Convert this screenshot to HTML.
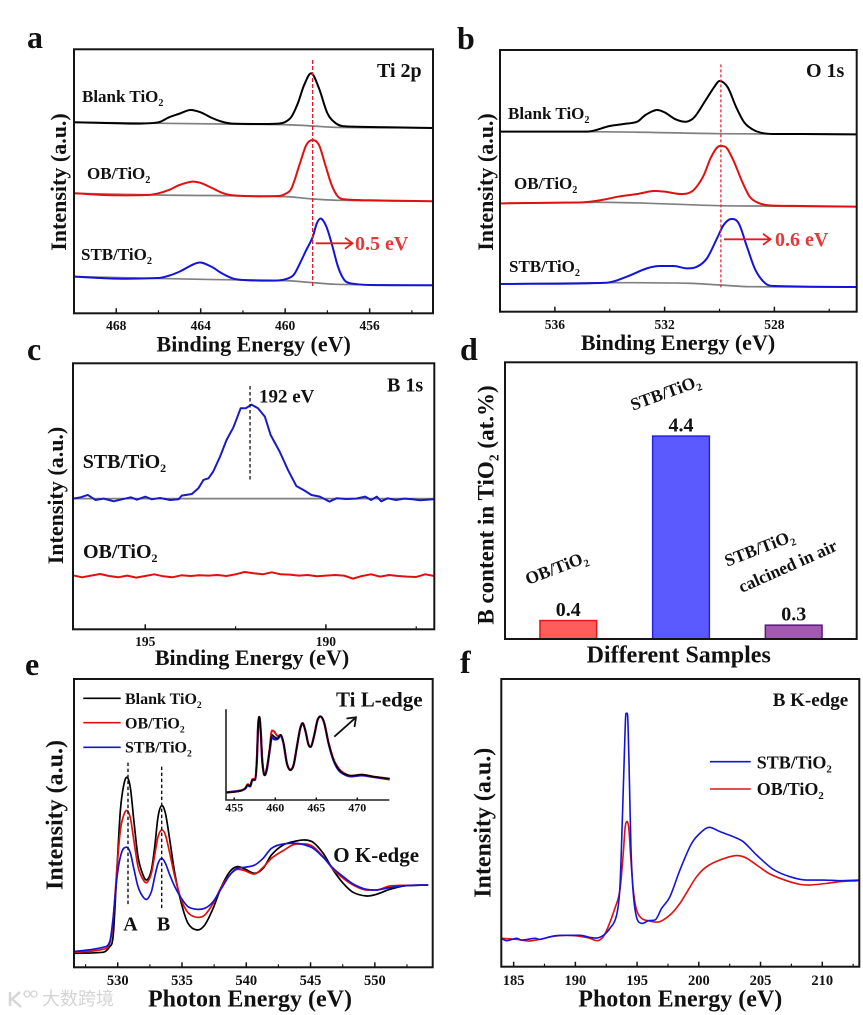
<!DOCTYPE html>
<html lang="en">
<head>
<meta charset="utf-8">
<title>TiO2 XPS and XANES panels</title>
<style>
html,body{margin:0;padding:0;background:#fff;}
svg{display:block;filter:blur(0.35px);}
text{font-family:"Liberation Serif","Noto Serif CJK SC",serif;font-weight:bold;fill:#111;}
.frame{fill:none;stroke:#151515;stroke-width:2;}
.panel{font-size:32px;}
.ax{font-size:22px;}
.ax24{font-size:24px;}
.lab{font-size:17px;}
.mark20{font-size:20px;}
.sub{font-size:60%;}
.redt{fill:#e23a3a;}
</style>
</head>
<body>
<svg id="figure" width="863" height="1015" viewBox="0 0 863 1015" xmlns="http://www.w3.org/2000/svg">
<rect width="863" height="1015" fill="#fff"/>

<g id="pa">
<text class="panel" x="27" y="48">a</text>
<g id="pa-marks"></g>
<rect class="frame" x="74" y="49.3" width="359" height="264"/>
<text class="ax" transform="translate(66,182) rotate(-90)" text-anchor="middle">Intensity (a.u.)</text>
<text class="ax" x="253.7" y="351.5" text-anchor="middle">Binding Energy (eV)</text>
<text class="mark20" x="377" y="77">Ti 2p</text>
<text class="lab" x="82" y="102">Blank TiO<tspan class="sub" dy="4">2</tspan></text>
<text class="lab" x="87" y="179">OB/TiO<tspan class="sub" dy="4">2</tspan></text>
<text class="lab" x="81" y="260">STB/TiO<tspan class="sub" dy="4">2</tspan></text>
<g fill="none" stroke="#e01c1c" stroke-width="1.8"><path d="M315.7 243.3H352"/><path d="M345 237.8L352.5 243.3L345 248.8"/></g>
<text class="mark20 redt" x="355" y="250">0.5 eV</text>
</g>

<g id="pb">
<text class="panel" x="457" y="49">b</text>
<g id="pb-marks"></g>
<rect class="frame" x="500" y="50" width="356.7" height="261.7"/>
<text class="ax" transform="translate(493,182) rotate(-90)" text-anchor="middle">Intensity (a.u.)</text>
<text class="ax" x="678" y="350" text-anchor="middle">Binding Energy (eV)</text>
<text class="mark20" x="806" y="77">O 1s</text>
<text class="lab" x="508" y="119">Blank TiO<tspan class="sub" dy="4">2</tspan></text>
<text class="lab" x="514" y="189">OB/TiO<tspan class="sub" dy="4">2</tspan></text>
<text class="lab" x="509" y="272">STB/TiO<tspan class="sub" dy="4">2</tspan></text>
<g fill="none" stroke="#e01c1c" stroke-width="1.8"><path d="M724 239.3H770"/><path d="M763 233.8L770.5 239.3L763 244.8"/></g>
<text class="mark20 redt" x="775" y="246">0.6 eV</text>
</g>

<g id="pc">
<text class="panel" x="27" y="360">c</text>
<g id="pc-marks"></g>
<rect class="frame" x="73" y="363.3" width="361.3" height="266"/>
<text class="ax" transform="translate(63,495.5) rotate(-90)" text-anchor="middle">Intensity (a.u.)</text>
<text class="ax" x="252" y="665" text-anchor="middle">Binding Energy (eV)</text>
<text class="mark20" x="387" y="391.7">B 1s</text>
<text style="font-size:19px" x="259" y="402.7">192 eV</text>
<text class="mark20" x="82.7" y="468">STB/TiO<tspan class="sub" dy="4">2</tspan></text>
<text class="mark20" x="83" y="558">OB/TiO<tspan class="sub" dy="4">2</tspan></text>
</g>

<g id="pd">
<text class="panel" x="460" y="360">d</text>
<g id="pd-marks"></g>
<rect class="frame" x="505" y="362.3" width="351.7" height="276.7"/>
<text style="font-size:23px" transform="translate(493.3,505) rotate(-90)" text-anchor="middle">B content in TiO<tspan class="sub" dy="5">2</tspan><tspan dy="-5"> (at.%)</tspan></text>
<text class="ax24" x="678.7" y="662.7" text-anchor="middle">Different Samples</text>
<text style="font-size:17.5px" transform="translate(528,585) rotate(-21)">OB/TiO<tspan class="sub" dy="4">2</tspan></text>
<text style="font-size:17.5px" transform="translate(633,410.7) rotate(-20)">STB/TiO<tspan class="sub" dy="4">2</tspan></text>
<text style="font-size:17.5px" transform="translate(727.3,566.7) rotate(-21)">STB/TiO<tspan class="sub" dy="4">2</tspan></text>
<text style="font-size:17.5px" transform="translate(741.7,593) rotate(-24)">calcined in air</text>
</g>

<g id="pe">
<text class="panel" x="25" y="675">e</text>
<g id="pe-marks"></g>
<rect class="frame" x="74" y="679" width="358.7" height="288.3"/>
<text class="ax24" transform="translate(62.3,815) rotate(-90)" text-anchor="middle">Intensity (a.u.)</text>
<text class="ax24" x="250" y="1006.7" text-anchor="middle">Photon Energy (eV)</text>
<g>
<path d="M83.3 698.3H120.7" stroke="#000" stroke-width="1.6"/>
<path d="M83.3 722.7H120.7" stroke="#e01010" stroke-width="1.6"/>
<path d="M83.3 747.3H120.7" stroke="#1414d8" stroke-width="1.6"/>
<text style="font-size:16px" x="125" y="704">Blank TiO<tspan class="sub" dy="4">2</tspan></text>
<text style="font-size:16px" x="125" y="728.3">OB/TiO<tspan class="sub" dy="4">2</tspan></text>
<text style="font-size:16px" x="125" y="752.7">STB/TiO<tspan class="sub" dy="4">2</tspan></text>
</g>
<text class="mark20" x="130.5" y="930.7" text-anchor="middle">A</text>
<text class="mark20" x="163.5" y="930.7" text-anchor="middle">B</text>
<text style="font-size:21px" x="333.3" y="862">O K-edge</text>
<text style="font-size:21px" x="336" y="706.7">Ti L-edge</text>
<g fill="none" stroke="#111" stroke-width="1.8"><path d="M334.3 736.7L355.5 717.8"/><path d="M346.5 718.5L356 717.3L354.5 727"/></g>
<g id="pe-inset"></g>
</g>

<g id="pf">
<text class="panel" x="460" y="673">f</text>
<g id="pf-marks"></g>
<rect class="frame" x="501.3" y="679" width="358" height="287.7"/>
<text class="ax24" transform="translate(490.7,822.8) rotate(-90)" text-anchor="middle">Intensity (a.u.)</text>
<text class="ax24" x="680.3" y="1006.7" text-anchor="middle">Photon Energy (eV)</text>
<text style="font-size:19px" x="772.7" y="706">B K-edge</text>
<g>
<path d="M710 761.7H750.7" stroke="#1414d8" stroke-width="1.6"/>
<path d="M710 789H750.7" stroke="#e01010" stroke-width="1.6"/>
<text style="font-size:18px" x="756.7" y="768.3">STB/TiO<tspan class="sub" dy="4">2</tspan></text>
<text style="font-size:18px" x="756.7" y="795">OB/TiO<tspan class="sub" dy="4">2</tspan></text>
</g>
</g>

<g opacity="0.9">
<path d="M10 992V1006M20 992L12 999L21 1007" fill="none" stroke="#d2d2d2" stroke-width="2.5"/>
<circle cx="27" cy="994" r="3" fill="none" stroke="#d2d2d2" stroke-width="1.3"/>
<circle cx="34" cy="994" r="3" fill="none" stroke="#d2d2d2" stroke-width="1.3"/>
<text x="42" y="1005" style="font-family:'Liberation Sans','Noto Sans CJK SC',sans-serif;font-size:18px;font-weight:normal;fill:#d0d0d0">大数跨境</text>
</g>
</svg>

<script>
// Panel a: Ti 2p
const aTicks = [468, 464, 460, 456];
const aMinor = [466, 462, 458, 454];
const aBlankE = [470,468,467,466,465.5,465,464.5,464,463.5,463,462.5,461,460.3,460,459.7,459.4,459.1,458.76,458.4,458,457.6,457.2,456,453];
const aBlankI = [573,570,569,573,588,599,610,603,587,575,569,568,569,574,590,630,685,720,675,600,570,561,559,556];
const aBlankBgE = [470,465.9,460.1,458.7,457.7,453];
const aBlankBgI = [573,570,566,562,558,556];
const aObE = [470,468,466.5,466,465.5,465,464.4,464,463.5,463,462.5,461.5,460.3,460,459.7,459.3,459,458.7,458.4,458.1,457.8,457.5,457.2,456,453];
const aObI = [360,354,355,360,370,385,395,391,377,362,354,351,352,358,375,450,505,520,505,445,385,350,342,339,336];
const aObBgE = [470,466,460,458.7,457.5,453];
const aObBgI = [360,355,350,343,339,336];
const aStbE = [470,468,466,465.5,465,464.1,463.5,463,462.5,462,460.5,460,459.6,459.3,459,458.7,458.5,458.3,458.05,457.8,457.5,457.2,456.9,456,453];
const aStbI = [110,104,106,113,125,152,140,120,105,100,98,102,115,150,190,228,270,284,260,210,140,100,90,85,84];
const aStbBgE = [470,464,460,458.7,457.6,453];
const aStbBgI = [110,102,98,92,87,84];
const aGuideE = 458.7;
const aGuideI = [760, 80];

// Panel b: O 1s
const bTicks = [536, 532, 528];
const bMinor = [534, 530, 526];
const bBlankE = [538,536,534.85,534,533.5,533,532.7,532.3,532,531.6,531.2,530.9,530.5,530.2,530,529.7,529.4,529.1,528.8,528.5,528,527,525];
const bBlankI = [540,540,540,557,563,570,590,605,598,577,570,585,635,673,692,673,615,568,547,537,533,533,532];
const bBlankBgE = [538,534.8,530,528,525];
const bBlankBgI = [540,540,534,533,532];
const bObE = [538,536,535,534.3,533.7,533,532.4,532,531.4,531,530.6,530.3,530,529.8,529.5,529.2,528.9,528.6,528.2,527,525];
const bObI = [325,327,328,335,345,353,362,360,353,361,405,465,497,495,455,395,345,327,319,317,315];
const bObBgE = [538,534,530,528.5,525];
const bObBgI = [325,328,318,317,315];
const bStbE = [538,534.11,533.38,532.65,532.16,531.68,531.19,530.82,530.46,530.09,529.85,529.58,529.3,529,528.69,528.33,528.02,525];
const bStbI = [83,87,105,130,137,137,130,135,160,220,260,278,265,195,125,85,77,74];
const bStbBgE = [538,534,531,530,528.9,525];
const bStbBgI = [83,87,85,80,75,74];
const bGuideE = 529.95;
const bGuideI = [742, 73];

// Panel c: B 1s
const cTicks = [195, 190];
const cMinor = [192.5, 187.5];
const cStbE = [196.99,196.79,196.59,196.38,196.15,195.87,195.64,195.40,195.23,195.00,194.82,194.59,194.31,194.08,193.99,193.71,193.53,193.39,193.25,193.12,192.93,192.75,192.56,192.36,192.22,192.06,191.88,191.69,191.53,191.28,191.05,190.82,190.59,190.40,190.17,189.90,189.71,189.44,189.16,188.91,188.75,188.59,188.47,188.29,188.06,187.83,187.60,187.40,187.02];
const cStbI = [392,396,403,388,392,384,390,396,389,398,390,394,388,390,401,406,423,448,453,473,518,568,606,663,663,674,663,638,583,533,478,430,416,403,398,383,393,391,392,398,388,398,384,393,388,392,390,387,390];
const cBgE = [196.99,187.02];
const cBgI = [392,392];
const cObE = [197,196.75,196.5,196.25,196,195.75,195.5,195.25,195,194.75,194.5,194.25,194,193.75,193.5,193.25,193,192.75,192.5,192.25,192,191.75,191.5,191.25,191,190.75,190.5,190.25,190,189.75,189.5,189.25,189,188.75,188.5,188.25,188,187.75,187.5,187.25,187];
const cObI = [162,156,161,166,160,156,161,155,160,165,159,156,162,160,162,161,163,160,165,172,168,165,171,165,164,161,163,159,161,163,161,152,160,165,158,163,160,158,157,165,160];
const cGuideE = 192.1;
const cGuideI = [730, 443];

// Panel d: boron content
const dCategories = ['OB/TiO2', 'STB/TiO2', 'STB/TiO2 calcined in air'];
const dValues = [0.4, 4.4, 0.3];
const dLabels = ['0.4', '4.4', '0.3'];
const dFills = ['#ff5c5c', '#5a5aff', '#a25ab0'];
const dStrokes = ['#e01818', '#2222e0', '#5b1a78'];

// Panel e: O K-edge
const eTicks = [530, 535, 540, 545, 550];
const eMinor = [527.5, 532.5, 537.5, 542.5, 547.5, 552.5];
const eEnergy = [526.58,528.86,529.38,529.64,529.95,530.21,530.47,530.73,530.99,531.25,531.58,531.92,532.26,532.62,532.88,533.14,533.42,533.71,534.05,534.44,534.95,535.47,536.17,536.77,537.42,538.07,538.72,539.29,539.88,540.66,541.31,541.96,542.87,543.9,544.55,545.2,545.98,546.76,547.54,548.31,549.35,550.13,551.17,552.46,554.15];
const eBlank = [42,45,62,92,302,472,547,570,537,442,332,282,262,292,362,452,485,462,382,282,192,132,112,127,177,242,287,302,295,282,297,337,367,379,382,375,342,292,252,225,214,219,234,245,247];
const eOb = [44,54,72,142,302,412,457,470,447,382,302,267,254,282,337,392,412,397,342,272,202,164,150,157,192,242,277,294,290,280,300,327,350,370,370,362,332,294,267,247,232,232,244,246,247];
const eStb = [47,60,77,147,272,332,357,360,342,297,242,214,204,227,272,312,327,312,277,242,207,182,174,177,197,237,277,297,300,307,327,357,370,372,367,357,330,297,272,250,234,232,239,245,247];
const eGuideA = 530.8;
const eGuideAI = [614, 187];
const eGuideB = 533.42;
const eGuideBI = [602, 174];

// Panel e inset: Ti L-edge
const iTicks = [455, 460, 465, 470];
const iEnergy = [454.02,455.73,456.34,456.63,456.95,457.2,457.56,457.76,457.93,458.09,458.25,458.41,458.66,458.98,459.31,459.59,459.88,460.28,460.69,461.02,461.42,461.83,462.24,462.64,463.05,463.37,463.7,464.07,464.35,464.76,465.16,465.57,465.98,466.5,467.11,467.72,468.33,469.15,470.57,471.99,473.94];
const iBlank = [22,27,35,45,42,60,62,120,230,248,200,120,75,95,150,195,190,185,195,170,110,90,105,160,215,230,205,165,160,195,240,250,230,170,120,92,80,73,76,70,64];
const iOb = [22,27,35,47,44,62,65,120,230,248,200,122,78,97,152,208,205,192,195,170,110,92,105,160,215,230,205,165,160,195,240,250,230,172,122,95,81,73,76,70,64];
const iStb = [23,28,34,44,41,59,61,118,228,246,198,120,76,92,146,188,182,183,193,168,110,90,105,160,215,230,205,165,160,195,240,250,230,170,119,90,78,71,74,69,62];

// Panel f: B K-edge
const fTicks = [185, 190, 195, 200, 205, 210];
const fMinor = [187.5, 192.5, 197.5, 202.5, 207.5, 212.5];
const fStbE = [184,184.43,185.24,185.65,186.73,187.13,188.21,189.29,190.37,191.18,191.72,192.26,192.8,193.34,193.61,193.83,194.02,194.1,194.21,194.34,194.5,194.69,194.96,195.37,195.91,196.45,196.99,197.66,198.47,199.42,200.23,200.85,201.71,202.79,203.6,204.68,206.03,207.38,208.73,210.08,211.43,213];
const fStbI = [85,78,85,80,85,82,92,94,94,88,86,94,115,155,240,470,700,760,760,620,360,220,148,130,138,140,175,210,290,370,405,418,405,390,375,335,292,270,260,260,258,260];
const fObE = [184,185.24,186.19,187.13,188.21,189.29,190.37,191.18,191.77,192.26,192.66,193.2,193.61,193.88,194.04,194.21,194.34,194.5,194.69,194.96,195.37,195.91,196.72,197.66,198.47,199.14,199.82,200.63,201.71,202.93,203.74,204.68,205.76,207.11,208.19,209,210.35,211.43,213];
const fObI = [85,82,77,82,91,94,91,85,78,90,120,175,230,340,420,435,410,320,230,170,145,138,134,155,190,230,270,300,320,333,328,305,278,258,247,245,250,255,258];

const SVGNS = 'http://www.w3.org/2000/svg';
const BLACK = '#000', RED = '#e01010', BLUE = '#1414d8', GRAY = '#808080';

function linear(d0, d1, r0, r1) {
  return function (v) { return r0 + (v - d0) * (r1 - r0) / (d1 - d0); };
}
function straightPath(p) {
  return 'M' + p.map(function (q) { return q[0].toFixed(2) + ' ' + q[1].toFixed(2); }).join('L');
}
function smoothPath(p) {
  const n = p.length;
  if (n < 3) return straightPath(p);
  const s = [], m = [];
  for (let i = 0; i < n - 1; i++) s.push((p[i + 1][1] - p[i][1]) / (p[i + 1][0] - p[i][0]));
  m.push(s[0]);
  for (let i = 1; i < n - 1; i++) {
    const centred = (p[i + 1][1] - p[i - 1][1]) / (p[i + 1][0] - p[i - 1][0]);
    const lim = Math.min(Math.abs(s[i - 1]), Math.abs(s[i]));
    const cap = s[i - 1] * s[i] <= 0 ? lim : 3 * lim;
    m.push(Math.max(-cap, Math.min(cap, centred)));
  }
  m.push(s[n - 2]);
  let d = 'M' + p[0][0].toFixed(2) + ' ' + p[0][1].toFixed(2);
  for (let i = 0; i < n - 1; i++) {
    const h = (p[i + 1][0] - p[i][0]) / 3;
    d += 'C' + (p[i][0] + h).toFixed(2) + ' ' + (p[i][1] + m[i] * h).toFixed(2) + ' ' +
         (p[i + 1][0] - h).toFixed(2) + ' ' + (p[i + 1][1] - m[i + 1] * h).toFixed(2) + ' ' +
         p[i + 1][0].toFixed(2) + ' ' + p[i + 1][1].toFixed(2);
  }
  return d;
}
function drawSeries(parent, name, xs, ys, sx, sy, color, width, smooth) {
  const pts = xs.map(function (x, i) { return [sx(x), sy(ys[i])]; });
  pts.sort(function (a, b) { return a[0] - b[0]; });
  const el = document.createElementNS(SVGNS, 'path');
  el.setAttribute('d', smooth ? smoothPath(pts) : straightPath(pts));
  el.setAttribute('fill', 'none');
  el.setAttribute('stroke', color);
  el.setAttribute('stroke-width', width);
  el.setAttribute('stroke-linejoin', 'round');
  
  
  parent.appendChild(el);
}
function drawGuide(parent, name, x, iRange, sx, sy, color, width, dash) {
  const el = document.createElementNS(SVGNS, 'line');
  el.setAttribute('x1', sx(x));
  el.setAttribute('x2', sx(x));
  el.setAttribute('y1', sy(iRange[0]));
  el.setAttribute('y2', sy(iRange[1]));
  el.setAttribute('stroke', color);
  el.setAttribute('stroke-width', width);
  el.setAttribute('stroke-dasharray', dash);
  
  
  parent.appendChild(el);
}
function drawTicks(parent, prefix, values, minor, sx, axisY, labelY, fontSize, majorLen, minorLen) {
  values.forEach(function (v) {
    const t = document.createElementNS(SVGNS, 'line');
    t.setAttribute('x1', sx(v));
    t.setAttribute('x2', sx(v));
    t.setAttribute('y1', axisY);
    t.setAttribute('y2', axisY - majorLen);
    t.setAttribute('stroke', '#151515');
    t.setAttribute('stroke-width', 1.5);
    
    
    parent.appendChild(t);
    const l = document.createElementNS(SVGNS, 'text');
    l.setAttribute('x', sx(v));
    l.setAttribute('y', labelY);
    l.setAttribute('text-anchor', 'middle');
    l.style.fontSize = fontSize + 'px';
    l.textContent = String(v);
    
    
    parent.appendChild(l);
  });
  minor.forEach(function (v) {
    const t = document.createElementNS(SVGNS, 'line');
    t.setAttribute('x1', sx(v));
    t.setAttribute('x2', sx(v));
    t.setAttribute('y1', axisY);
    t.setAttribute('y2', axisY - minorLen);
    t.setAttribute('stroke', '#151515');
    t.setAttribute('stroke-width', 1.2);
    
    
    parent.appendChild(t);
  });
}

// Panel a
(function () {
  const g = document.getElementById('pa-marks');
  const x = linear(470, 453, 74, 433), y = linear(0, 792, 313.3, 49.3);
  drawSeries(g, 'blank-background', aBlankBgE, aBlankBgI, x, y, GRAY, 1.7, true);
  drawSeries(g, 'ob-background', aObBgE, aObBgI, x, y, GRAY, 1.7, true);
  drawSeries(g, 'stb-background', aStbBgE, aStbBgI, x, y, GRAY, 1.7, true);
  drawSeries(g, 'blank-tio2-curve', aBlankE, aBlankI, x, y, BLACK, 2, true);
  drawSeries(g, 'ob-tio2-curve', aObE, aObI, x, y, RED, 2, true);
  drawSeries(g, 'stb-tio2-curve', aStbE, aStbI, x, y, BLUE, 2, true);
  drawGuide(g, 'peak-guide', aGuideE, aGuideI, x, y, '#e01c2c', 1.3, '4 2');
  drawTicks(g, 'panel-a-x', aTicks, aMinor, x, 313.3, 330, 13.5, 5, 3);
})();

// Panel b
(function () {
  const g = document.getElementById('pb-marks');
  const x = linear(538, 525, 500, 856.7), y = linear(0, 785, 311.7, 50);
  drawSeries(g, 'blank-background', bBlankBgE, bBlankBgI, x, y, GRAY, 1.7, true);
  drawSeries(g, 'ob-background', bObBgE, bObBgI, x, y, GRAY, 1.7, true);
  drawSeries(g, 'stb-background', bStbBgE, bStbBgI, x, y, GRAY, 1.7, true);
  drawSeries(g, 'blank-tio2-curve', bBlankE, bBlankI, x, y, BLACK, 2, true);
  drawSeries(g, 'ob-tio2-curve', bObE, bObI, x, y, RED, 2, true);
  drawSeries(g, 'stb-tio2-curve', bStbE, bStbI, x, y, BLUE, 2, true);
  drawGuide(g, 'peak-guide', bGuideE, bGuideI, x, y, '#e01c2c', 1.2, '3 2');
  drawTicks(g, 'panel-b-x', bTicks, bMinor, x, 311.7, 329, 13.5, 5, 3);
})();

// Panel c
(function () {
  const g = document.getElementById('pc-marks');
  const x = linear(197, 187, 73, 434.3), y = linear(0, 798, 629.3, 363.3);
  drawSeries(g, 'baseline', cBgE, cBgI, x, y, GRAY, 1.7, false);
  drawSeries(g, 'stb-tio2-curve', cStbE, cStbI, x, y, '#1a1ac4', 2, false);
  drawSeries(g, 'ob-tio2-curve', cObE, cObI, x, y, RED, 2, false);
  drawGuide(g, 'peak-guide', cGuideE, cGuideI, x, y, '#111', 1.3, '3.5 2.5');
  drawTicks(g, 'panel-c-x', cTicks, cMinor, x, 629.3, 646, 13.5, 5, 3);
})();

// Panel d
(function () {
  const g = document.getElementById('pd-marks');
  const y = linear(0, 6, 639, 362.3);
  const barX = function (i) { return 568.3 + i * 112.7; };
  const barWidth = 56.7;
  dCategories.forEach(function (c, i) {
    const r = document.createElementNS(SVGNS, 'rect');
    r.setAttribute('x', barX(i) - barWidth / 2);
    r.setAttribute('y', y(dValues[i]));
    r.setAttribute('width', barWidth);
    r.setAttribute('height', y(0) - y(dValues[i]));
    r.setAttribute('fill', dFills[i]);
    r.setAttribute('stroke', dStrokes[i]);
    r.setAttribute('stroke-width', 1.5);
    
    
    g.appendChild(r);
    const t = document.createElementNS(SVGNS, 'text');
    t.setAttribute('x', barX(i));
    t.setAttribute('y', y(dValues[i]) - 4.7);
    t.setAttribute('text-anchor', 'middle');
    t.style.fontSize = '20px';
    t.textContent = dLabels[i];
    
    
    g.appendChild(t);
  });
})();

// Panel e
(function () {
  const g = document.getElementById('pe-marks');
  const x = linear(526.6, 554.5, 74, 432.7), y = linear(0, 865, 967.3, 679);
  drawSeries(g, 'blank-tio2-curve', eEnergy, eBlank, x, y, BLACK, 1.7, true);
  drawSeries(g, 'ob-tio2-curve', eEnergy, eOb, x, y, RED, 1.7, true);
  drawSeries(g, 'stb-tio2-curve', eEnergy, eStb, x, y, BLUE, 1.7, true);
  drawGuide(g, 'peak-a-guide', eGuideA, eGuideAI, x, y, '#111', 1.4, '3.5 2.5');
  drawGuide(g, 'peak-b-guide', eGuideB, eGuideBI, x, y, '#111', 1.4, '3.5 2.5');
  drawTicks(g, 'panel-e-x', eTicks, eMinor, x, 967.3, 985, 14.5, 5, 3);

  const ig = document.getElementById('pe-inset');
  const ix = linear(454, 473.9, 226, 389.3), iy = linear(0, 272, 800, 709.3);
  drawSeries(ig, 'inset-stb-curve', iEnergy, iStb, ix, iy, BLUE, 2.3, true);
  drawSeries(ig, 'inset-ob-curve', iEnergy, iOb, ix, iy, RED, 2, true);
  drawSeries(ig, 'inset-blank-curve', iEnergy, iBlank, ix, iy, BLACK, 1.6, true);
  const ax = document.createElementNS(SVGNS, 'path');
  ax.setAttribute('d', 'M' + ix(454) + ' ' + iy(272) + 'V' + iy(0) + 'H' + ix(473.9));
  ax.setAttribute('fill', 'none');
  ax.setAttribute('stroke', '#222');
  ax.setAttribute('stroke-width', 1.6);
  
  
  ig.appendChild(ax);
  drawTicks(ig, 'inset-x', iTicks, [], ix, 800, 811.7, 12, 2.5, 0);
})();

// Panel f
(function () {
  const g = document.getElementById('pf-marks');
  const x = linear(184, 213, 501.3, 859.3), y = linear(0, 863, 966.7, 679);
  drawSeries(g, 'ob-tio2-curve', fObE, fObI, x, y, RED, 1.6, true);
  drawSeries(g, 'stb-tio2-curve', fStbE, fStbI, x, y, BLUE, 1.6, true);
  drawTicks(g, 'panel-f-x', fTicks, fMinor, x, 966.7, 985, 14.5, 5, 3);
})();
</script>
</body>
</html>
